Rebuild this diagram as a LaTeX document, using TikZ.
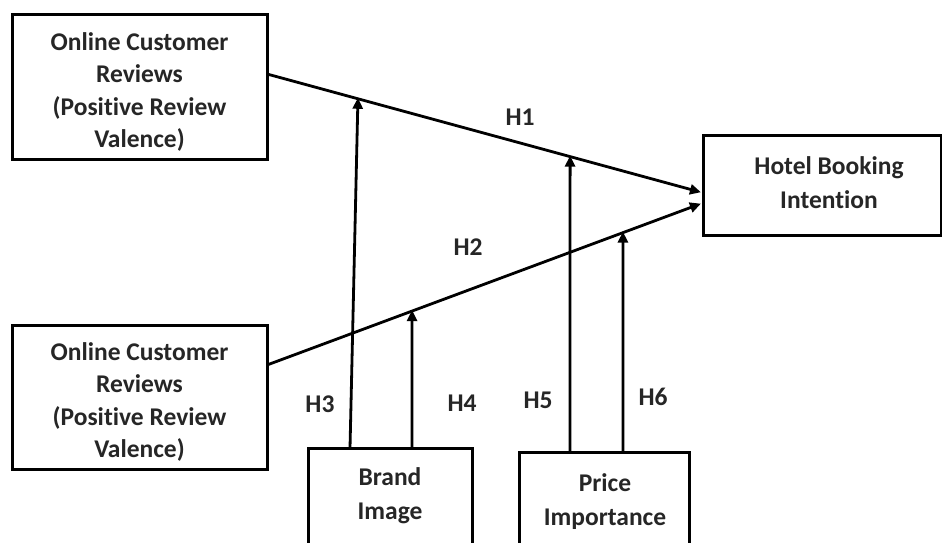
\documentclass[tikz,border=0pt]{standalone}
\usepackage{fontspec}
\setmainfont{Carlito}[Ligatures=NoCommon]
\usetikzlibrary{arrows.meta}
\tikzset{
  box/.style={draw=black, line width=3pt, rectangle, inner sep=0pt, fill=white},
  txt/.style={font=\bfseries\fontsize{25.5}{32.3}\selectfont, align=center, inner sep=0pt, text=black!85},
  lbl/.style={font=\bfseries\fontsize{25.5}{27}\selectfont, inner sep=0pt, text=black!85},
  arr/.style={line width=2.8pt, -{Triangle[length=11pt,width=10pt]}, shorten >=-1pt}
}
\begin{document}
\begin{tikzpicture}[x=1pt,y=-1pt]
\useasboundingbox (0,0) rectangle (942,543);
\clip (0,0) rectangle (942,543);
\fill[white] (0,0) rectangle (942,543);
% boxes
\node[box, minimum width=255pt, minimum height=144pt] (tl) at (139.5,87) {};
\node[box, minimum width=255pt, minimum height=144pt] (bl) at (139.5,397) {};
\node[box, minimum width=238pt, minimum height=100pt] (hb) at (822,185) {};
\node[box, minimum width=164pt, minimum height=112pt] (bi) at (390,504) {};
\node[box, minimum width=170pt, minimum height=108pt] (pi) at (604,506) {};
% texts
\node[txt] (tlt) at (139.5,92) {Online Customer\\Reviews\\(Positive Review\\Valence)};
\node[txt] (blt) at (139.5,402) {Online Customer\\Reviews\\(Positive Review\\Valence)};
\node[txt, text height=18pt, text depth=0pt] (hbt1) at (829,165) {Hotel Booking};
\node[txt, text height=18pt, text depth=0pt] (hbt2) at (829,199) {Intention};
\node[txt] (bit1) at (390,477) {Brand};
\node[txt] (bit2) at (390,513) {Image};
\node[txt] (pit1) at (605,483) {Price};
\node[txt] (pit2) at (605,519) {Importance};
% main connectors
\coordinate (s1) at (267,74);
\coordinate (t1) at (700,192);
\coordinate (s2) at (267,365);
\coordinate (t2) at (700,204);
\draw[arr] (s1) -- (t1);
\draw[arr] (s2) -- (t2);
\path (s1) -- (t1) coordinate[pos=0.210] (m3) coordinate[pos=0.700] (m5);
\path (s2) -- (t2) coordinate[pos=0.335] (m4) coordinate[pos=0.822] (m6);
% moderator connectors
\coordinate (b3) at (350,448);
\coordinate (b4) at (412,448);
\coordinate (b5) at (570,452);
\coordinate (b6) at (623,452);
\draw[arr] (b3) -- (m3);
\draw[arr] (b4) -- (m4);
\draw[arr] (b5) -- (m5);
\draw[arr] (b6) -- (m6);
% labels
\node[lbl] (h1) at (520,117) {H1};
\node[lbl] (h2) at (468,247) {H2};
\node[lbl] (h3) at (320,404) {H3};
\node[lbl] (h4) at (462,403) {H4};
\node[lbl] (h5) at (538,400) {H5};
\node[lbl] (h6) at (653,397) {H6};
\end{tikzpicture}
\end{document}
